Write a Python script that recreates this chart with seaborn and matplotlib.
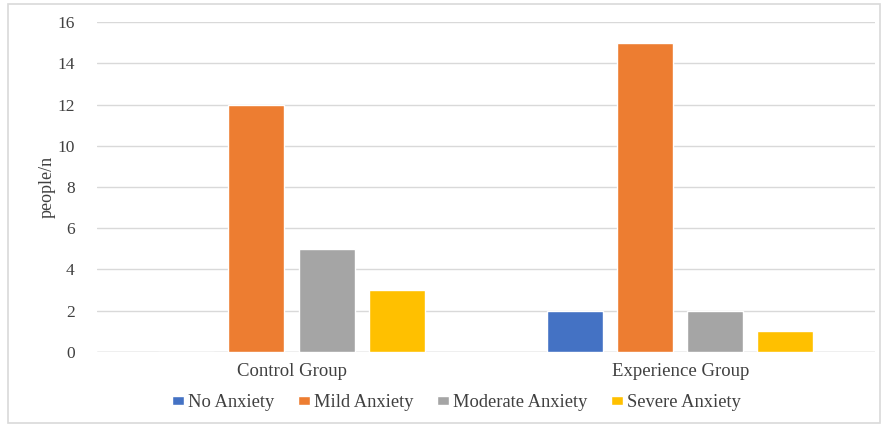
import matplotlib
matplotlib.use("Agg")
import matplotlib.pyplot as plt
from matplotlib.patches import Rectangle
import seaborn as sns
import pandas as pd

groups = ["Control Group", "Experience Group"]
levels = ["No Anxiety", "Mild Anxiety", "Moderate Anxiety", "Severe Anxiety"]
control_counts = [0, 12, 5, 3]
experience_counts = [2, 15, 2, 1]
colors = ["#4472C4", "#ED7D31", "#A5A5A5", "#FFC000"]
y_ticks = [0, 2, 4, 6, 8, 10, 12, 14, 16]

df = pd.DataFrame({
    "group": [groups[0]] * 4 + [groups[1]] * 4,
    "level": levels * 2,
    "count": control_counts + experience_counts,
})

sns.set_theme(style="white")
plt.rcParams["font.family"] = ["Liberation Serif", "DejaVu Serif"]

fig = plt.figure(figsize=(8.82, 4.25), dpi=100)
ax = fig.add_axes([0.110, 0.172, 0.882, 0.776])

sns.barplot(data=df, x="group", y="count", hue="level", order=groups,
            hue_order=levels, palette=colors, width=0.72, gap=0.2,
            saturation=1, ax=ax, legend=True)

ax.set_ylim(0, 16)
ax.set_yticks(y_ticks)
ax.set_xlim(-0.5, 1.5)
ax.yaxis.grid(True, color="#D9D9D9", linewidth=1)
ax.set_axisbelow(True)
for s in ax.spines.values():
    s.set_visible(False)
ax.axhline(0, color="#D0D0D0", linewidth=1, zorder=0)
ax.tick_params(axis="y", labelsize=12.5, colors="#404040", length=0, pad=16)
ax.tick_params(axis="x", labelsize=13.5, colors="#404040", length=0, pad=8)
ax.set_xlabel("")
ax.set_ylabel("people/n", fontsize=13, color="#404040", labelpad=1)

handles, labels = ax.get_legend_handles_labels()
ax.legend_.remove()
fig.legend(handles, labels, loc="center", bbox_to_anchor=(0.5175, 0.053),
           ncol=4, frameon=False, fontsize=13.3, handlelength=0.65,
           handleheight=0.35, handletextpad=0.25, columnspacing=1.25,
           labelcolor="#404040")

fig.patches.append(Rectangle((0.009, 0.005), 0.989, 0.985,
                             transform=fig.transFigure, fill=False,
                             edgecolor="#D9D9D9", linewidth=1.2))

fig.savefig("out.png", dpi=100)
